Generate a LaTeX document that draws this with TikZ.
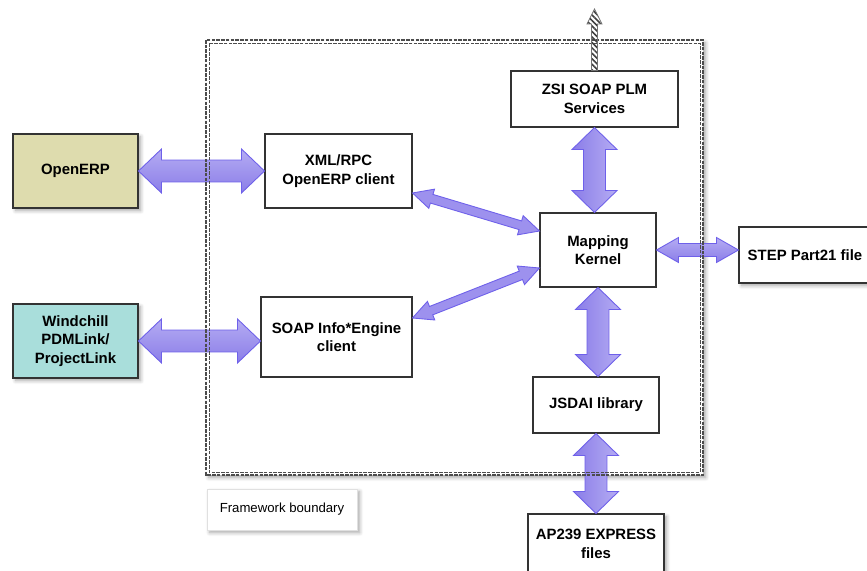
\documentclass[tikz,border=0pt]{standalone}
\usepackage{fontspec}
\setmainfont{Liberation Sans}
\usetikzlibrary{calc,patterns.meta,shadows.blur}
\definecolor{erpfill}{HTML}{DEDCAE}
\definecolor{pdmfill}{HTML}{A9DEDB}
\definecolor{arrowdark}{HTML}{8A7DE8}
\definecolor{arrowmid}{HTML}{9D91EE}
\definecolor{arrowlight}{HTML}{B5ACF3}
\definecolor{arrowedge}{HTML}{6E60EA}

% fat arrow with a head at both ends: style, from, to, shaft half width, head half width, head length
\newcommand{\biarrow}[6]{%
  \path[#1] (#2)
    -- ($(#2)!#6!(#3)!#5!90:(#3)$)
    -- ($(#2)!#6!(#3)!#4!90:(#3)$)
    -- ($(#3)!#6!(#2)!#4!-90:(#2)$)
    -- ($(#3)!#6!(#2)!#5!-90:(#2)$)
    -- (#3)
    -- ($(#3)!#6!(#2)!#5!90:(#2)$)
    -- ($(#3)!#6!(#2)!#4!90:(#2)$)
    -- ($(#2)!#6!(#3)!#4!-90:(#3)$)
    -- ($(#2)!#6!(#3)!#5!-90:(#3)$)
    -- cycle;}
% same, one head only (at the second point)
\newcommand{\sglarrow}[6]{%
  \path[#1] ($(#2)!#4!90:(#3)$)
    -- ($(#3)!#6!(#2)!#4!-90:(#2)$)
    -- ($(#3)!#6!(#2)!#5!-90:(#2)$)
    -- (#3)
    -- ($(#3)!#6!(#2)!#5!90:(#2)$)
    -- ($(#3)!#6!(#2)!#4!90:(#2)$)
    -- ($(#2)!#4!-90:(#3)$)
    -- cycle;}

\begin{document}
\begin{tikzpicture}[x=0.02cm, y=-0.02cm,
    block/.style={draw=black!80, fill=white, line width=0.6pt, align=center,
      inner sep=2pt, font=\fontsize{8.5}{10.5}\selectfont\bfseries},
    softshadow/.style={blur shadow={shadow xshift=1.5pt, shadow yshift=-1.5pt,
      shadow blur steps=6, shadow opacity=35}},
    outside/.style={block, softshadow},
    harrow/.style={draw=arrowedge, line width=0.5pt, top color=arrowlight, bottom color=arrowdark},
    varrow/.style={draw=arrowedge, line width=0.5pt, left color=arrowdark, right color=arrowlight},
    darrow/.style={draw=arrowedge, line width=0.5pt, fill=arrowmid},
    frameline/.style={draw=black!70, dash pattern=on 2pt off 0.7pt, line width=0.7pt},
  ]
  \useasboundingbox (0,0) rectangle (867,571);

  % framework area
  \path[fill=white, softshadow] (206,40) rectangle (703,475);

  \node[outside, fill=erpfill, minimum width=2.5cm, minimum height=1.48cm] (openerp) at (75.5,171) {OpenERP};
  \node[outside, fill=pdmfill, minimum width=2.5cm, minimum height=1.48cm] (windchill) at (75.5,341) {Windchill\\PDMLink/\\ProjectLink};
  \node[block, minimum width=2.94cm, minimum height=1.48cm] (xmlrpc) at (338.5,171) {XML/RPC\\OpenERP client};
  \node[block, minimum width=3.02cm, minimum height=1.6cm] (soapclient) at (336.5,337) {SOAP Info*Engine\\client};
  \node[block, minimum width=3.34cm, minimum height=1.12cm] (zsi) at (594.5,99) {ZSI SOAP PLM\\Services};
  \node[block, minimum width=2.32cm, minimum height=1.48cm] (kernel) at (598,250) {Mapping\\Kernel};
  \node[outside, minimum width=2.64cm, minimum height=1.12cm] (steppart) at (805,255) {STEP Part21 file};
  \node[block, minimum width=2.52cm, minimum height=1.12cm] (jsdai) at (596,405) {JSDAI library};
  \node[outside, minimum width=2.72cm, minimum height=1.2cm] (express) at (596,544) {AP239 EXPRESS\\files};
  \node[fill=white, draw=black!12, softshadow, minimum width=3cm, minimum height=0.82cm,
    font=\fontsize{7.5}{9}\selectfont] (fwlabel) at (282,509.5) {Framework boundary};

  \coordinate (xr) at ([yshift=-0.44cm]xmlrpc.east);
  \coordinate (k1) at ([yshift=0.38cm]kernel.west);
  \coordinate (sc) at ([yshift=0.38cm]soapclient.east);
  \coordinate (k2) at ([yshift=-0.36cm]kernel.west);
  \coordinate (zk) at (zsi.south |- kernel.north);
  \coordinate (kj) at (kernel.south |- jsdai.north);
  \coordinate (je) at (jsdai.south |- express.north);
  \coordinate (ks) at (kernel.east -| steppart.west);
  \coordinate (ox) at (openerp.east -| xmlrpc.west);
  \coordinate (ws) at (windchill.east -| soapclient.west);
  \coordinate (ext) at (594.5,9);

  \biarrow{harrow}{openerp.east}{ox}{0.22cm}{0.44cm}{0.46cm}
  \biarrow{harrow}{windchill.east}{ws}{0.22cm}{0.44cm}{0.46cm}
  \biarrow{darrow}{xr}{k1}{0.09cm}{0.2cm}{0.4cm}
  \biarrow{darrow}{sc}{k2}{0.09cm}{0.2cm}{0.4cm}
  \biarrow{harrow}{kernel.east}{ks}{0.13cm}{0.25cm}{0.44cm}
  \biarrow{varrow}{zsi.south}{zk}{0.22cm}{0.45cm}{0.44cm}
  \biarrow{varrow}{kernel.south}{kj}{0.22cm}{0.45cm}{0.44cm}
  \biarrow{varrow}{jsdai.south}{je}{0.22cm}{0.45cm}{0.44cm}

  \draw[frameline] (206,40) rectangle (703,475);
  \draw[frameline, line width=0.5pt] (209,43) rectangle (700,472);

  \sglarrow{draw=black!55, line width=0.4pt, pattern={Lines[angle=-45, distance=2.2pt, line width=0.9pt]}, pattern color=black!75}{zsi.north}{ext}{0.06cm}{0.15cm}{0.3cm}
\end{tikzpicture}
\end{document}
